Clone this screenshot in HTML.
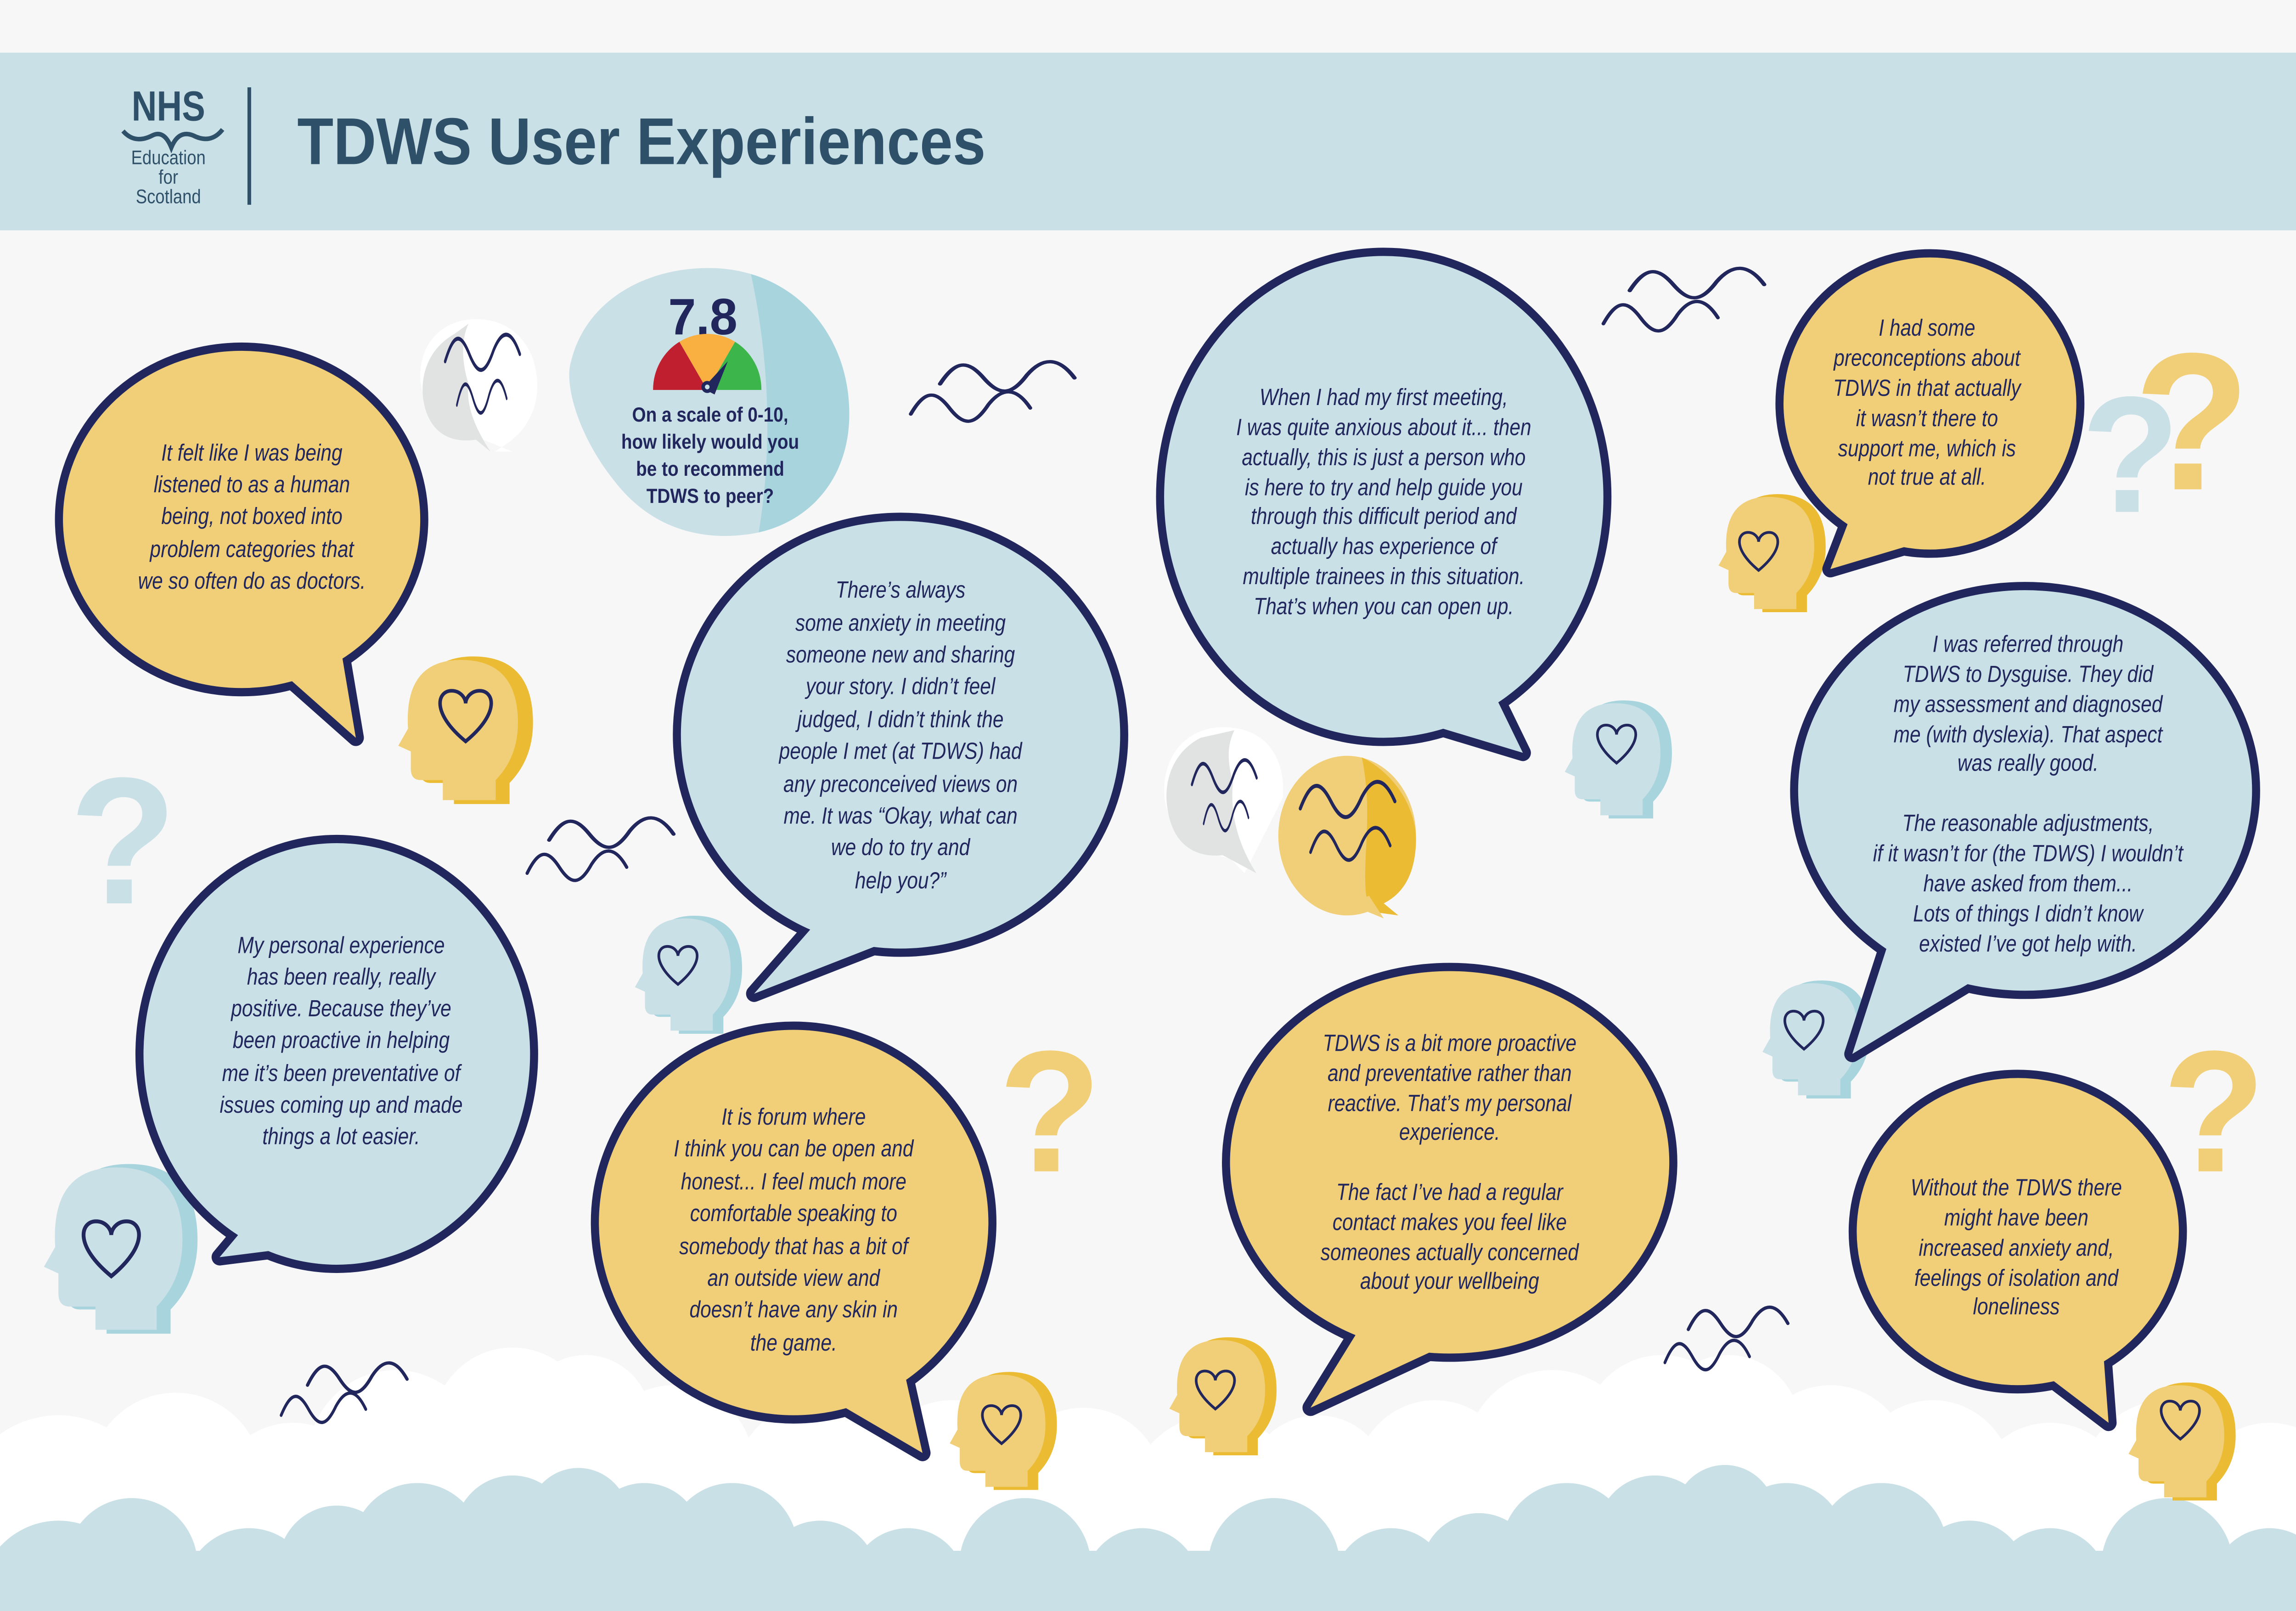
<!DOCTYPE html>
<html><head><meta charset="utf-8">
<style>
html,body{margin:0;padding:0;background:#f7f7f7;overflow:hidden;width:100%;height:100%;}
svg{display:block;position:absolute;left:0;top:0;width:100vw;height:100vh;}
.q{font-family:"Liberation Sans Narrow","Liberation Sans",sans-serif;font-style:italic;font-size:15.5px;fill:#21275c;text-anchor:middle;}
</style></head>
<body>
<svg viewBox="0 0 1568 1070" preserveAspectRatio="none" xmlns="http://www.w3.org/2000/svg">
<defs>
<g id="head">
<path d="M-8,52 L-8,38 L-24,38 Q-31,38 -31,30 L-31,18 L-40,14 L-33,2 Q-36,-46 5,-46 Q46,-46 46,-2 Q46,22 30,38 L30,52 Z"/>
</g>
<path id="wave" d="M0,10 C8,-6 14,-6 22,6 C30,18 36,18 44,4 C52,-8 60,-8 68,6" fill="none" stroke="#21275c" stroke-width="2.2" stroke-linecap="round"/>
<path id="hrt" d="M0,12 C-20,-4 -16,-16 -8,-16 C-3,-16 0,-12 0,-9 C0,-12 3,-16 8,-16 C16,-16 20,-4 0,12 Z"/>
</defs>
<rect x="0" y="0" width="1568" height="1070" fill="#f7f7f7"/>
<!-- header -->
<rect x="0" y="35" width="1568" height="118" fill="#c9e0e6"/>
<text x="115" y="80" font-family="Liberation Sans,sans-serif" font-weight="bold" font-size="28" fill="#2f5069" text-anchor="middle" transform="translate(115,0) scale(0.85,1) translate(-115,0)">NHS</text>
<path d="M84,87 Q92,96 104,90 Q112,86 117,98 Q122,86 132,90 Q144,96 152,86" fill="none" stroke="#2f5069" stroke-width="3"/>
<g font-family="Liberation Sans,sans-serif" font-size="13" fill="#2f5069" text-anchor="middle" transform="translate(115,0) scale(0.88,1) translate(-115,0)">
<text x="115" y="109">Education</text><text x="115" y="122">for</text><text x="115" y="135">Scotland</text></g>
<rect x="169" y="58" width="2.5" height="78" fill="#2f5069"/>
<text x="203" y="109" font-family="Liberation Sans,sans-serif" font-weight="bold" font-size="44" fill="#2f5069" transform="translate(203,0) scale(0.92,1) translate(-203,0)">TDWS User Experiences</text>

<!-- clouds white -->
<g fill="#ffffff">
<circle cx="40" cy="1010" r="70"/><circle cx="120" cy="985" r="60"/><circle cx="200" cy="1000" r="55"/>
<circle cx="270" cy="970" r="60"/><circle cx="350" cy="950" r="55"/><circle cx="400" cy="945" r="45"/>
<circle cx="460" cy="975" r="55"/><circle cx="560" cy="990" r="60"/><circle cx="650" cy="985" r="55"/>
<circle cx="740" cy="990" r="55"/><circle cx="830" cy="1000" r="60"/><circle cx="900" cy="990" r="50"/>
<circle cx="980" cy="985" r="55"/><circle cx="1060" cy="970" r="60"/><circle cx="1135" cy="955" r="55"/>
<circle cx="1180" cy="950" r="50"/><circle cx="1250" cy="975" r="55"/><circle cx="1320" cy="985" r="55"/>
<circle cx="1400" cy="1000" r="55"/><circle cx="1480" cy="990" r="60"/><circle cx="1550" cy="1000" r="55"/>
</g>
<!-- clouds blue -->
<g fill="#c9e0e6">
<rect x="0" y="1030" width="1568" height="40"/>
<circle cx="40" cy="1065" r="55"/><circle cx="90" cy="1040" r="45"/><circle cx="170" cy="1060" r="45"/>
<circle cx="230" cy="1040" r="40"/><circle cx="285" cy="1030" r="45"/><circle cx="350" cy="1020" r="40"/>
<circle cx="395" cy="1010" r="35"/><circle cx="440" cy="1025" r="40"/><circle cx="500" cy="1030" r="45"/>
<circle cx="560" cy="1050" r="40"/><circle cx="620" cy="1055" r="40"/><circle cx="700" cy="1040" r="45"/>
<circle cx="780" cy="1055" r="40"/><circle cx="870" cy="1040" r="45"/><circle cx="950" cy="1055" r="40"/>
<circle cx="1010" cy="1045" r="40"/><circle cx="1070" cy="1030" r="45"/><circle cx="1130" cy="1020" r="40"/>
<circle cx="1178" cy="1008" r="35"/><circle cx="1220" cy="1025" r="40"/><circle cx="1285" cy="1030" r="45"/>
<circle cx="1345" cy="1050" r="40"/><circle cx="1400" cy="1055" r="40"/><circle cx="1480" cy="1040" r="45"/>
<circle cx="1550" cy="1055" r="40"/>
</g>

<!-- waves -->
<use href="#wave" transform="translate(642,245) scale(1.35,1)"/>
<use href="#wave" transform="translate(622,265) scale(1.2,1)"/>
<use href="#wave" transform="translate(1113,183) scale(1.35,1)"/>
<use href="#wave" transform="translate(1095,205) scale(1.15,1)"/>
<use href="#wave" transform="translate(375,548) scale(1.25,1)"/>
<use href="#wave" transform="translate(360,570) scale(1.0,1)"/>
<use href="#wave" transform="translate(210,910) scale(1.0,1)"/>
<use href="#wave" transform="translate(192,930) scale(0.85,1)"/>
<use href="#wave" transform="translate(1153,873) scale(1.0,1)"/>
<use href="#wave" transform="translate(1137,895) scale(0.85,1)"/>

<!-- small chat bubbles -->
<path d="M325,212 C360,212 372,245 365,270 C358,290 345,295 338,300 L350,300 L330,292 C300,290 287,265 287,250 C287,225 305,212 325,212 Z" fill="#ffffff"/>
<path d="M310,222 C292,232 287,250 289,265 C292,285 305,295 325,292 L335,300 C325,285 318,270 320,255 C315,240 315,225 320,215 Z" fill="#e1e3e3"/>
<use href="#wave" transform="translate(304,228) scale(0.75,1.2)"/>
<use href="#wave" transform="translate(312,258) scale(0.5,1.1)"/>
<path d="M835,483 C870,483 878,510 876,530 L850,580 L840,570 C810,565 795,545 795,525 C795,500 812,483 835,483 Z" fill="#ffffff"/>
<path d="M820,490 C800,500 795,520 797,535 C800,560 815,570 835,568 L858,580 C845,560 840,540 842,520 C838,505 838,495 843,485 Z" fill="#e1e3e3"/>
<use href="#wave" transform="translate(814,510) scale(0.65,1.1)"/>
<use href="#wave" transform="translate(822,537) scale(0.45,1.0)"/>
<ellipse cx="920" cy="555" rx="47" ry="53" fill="#f1cf78"/>
<path d="M930,503 C955,515 968,540 967,560 C966,585 955,595 945,600 L955,608 L940,606 L933,595 C930,570 938,540 930,503 Z" fill="#ebbc33"/>
<path d="M920,600 L945,610 L935,595 Z" fill="#f1cf78"/>
<use href="#wave" transform="translate(888,525) scale(0.95,1.2)"/>
<use href="#wave" transform="translate(895,555) scale(0.8,1.1)"/>

<!-- gauge bubble -->
<clipPath id="gc"><path d="M484,178 C540,178 580,220 580,275 C580,320 550,350 510,355 C470,360 440,345 420,320 C395,290 385,255 390,240 C400,200 440,178 484,178 Z"/></clipPath>
<g clip-path="url(#gc)">
<rect x="380" y="170" width="210" height="200" fill="#c9e0e6"/>
<path d="M510,170 C525,230 530,300 515,370 L600,370 L600,170 Z" fill="#a8d4de"/>
</g>
<text x="480" y="222" font-family="Liberation Sans,sans-serif" font-weight="bold" font-size="34" fill="#21275c" text-anchor="middle">7.8</text>
<path d="M446,259 A37,37 0 0 1 464,227 L483,259 Z" fill="#bf1f2f"/>
<path d="M464,227 A37,37 0 0 1 502,227 L483,259 Z" fill="#f9b041"/>
<path d="M502,227 A37,37 0 0 1 520,259 L483,259 Z" fill="#3cb64a"/>
<path d="M480,258 L497,240 L488,262 Z" fill="#21275c"/>
<circle cx="483" cy="257" r="4" fill="#21275c"/><circle cx="483" cy="257" r="1.6" fill="#c9e0e6"/>
<g font-family="Liberation Sans,sans-serif" font-weight="bold" font-size="13.5" fill="#21275c" text-anchor="middle" transform="translate(485,0) scale(0.9,1) translate(-485,0)">
<text x="485" y="280">On a scale of 0-10,</text><text x="485" y="298">how likely would you</text>
<text x="485" y="316">be to recommend</text><text x="485" y="334">TDWS to peer?</text></g>

<!-- question marks -->
<g font-family="Liberation Sans,sans-serif" font-weight="bold" text-anchor="middle">
<text x="84" y="600" font-size="120" fill="#c9e0e6">?</text>
<text x="1455" y="340" font-size="110" fill="#c9e0e6">?</text>
<text x="1497" y="325" font-size="130" fill="#f1cf78">?</text>
<text x="717" y="778" font-size="115" fill="#f1cf78">?</text>
<text x="1512" y="778" font-size="115" fill="#f1cf78">?</text>
</g>

<!-- heads -->
<g>
<use href="#head" transform="translate(318,482) scale(1.0)" fill="#ebbc33"/><use href="#head" transform="translate(310,482) scale(0.95)" fill="#f1cf78"/>
<use href="#head" transform="translate(1105,502) scale(0.8)" fill="#a8d4de"/><use href="#head" transform="translate(1099,502) scale(0.76)" fill="#c9e0e6"/>
<use href="#head" transform="translate(1210,365) scale(0.8)" fill="#ebbc33"/><use href="#head" transform="translate(1204,365) scale(0.76)" fill="#f1cf78"/>
<use href="#head" transform="translate(470,645) scale(0.8)" fill="#a8d4de"/><use href="#head" transform="translate(464,645) scale(0.76)" fill="#c9e0e6"/>
<use href="#head" transform="translate(82,826) scale(1.15)" fill="#a8d4de"/><use href="#head" transform="translate(74,826) scale(1.1)" fill="#c9e0e6"/>
<use href="#head" transform="translate(685,948) scale(0.8)" fill="#ebbc33"/><use href="#head" transform="translate(679,948) scale(0.76)" fill="#f1cf78"/>
<use href="#head" transform="translate(835,925) scale(0.8)" fill="#ebbc33"/><use href="#head" transform="translate(829,925) scale(0.76)" fill="#f1cf78"/>
<use href="#head" transform="translate(1240,688) scale(0.8)" fill="#a8d4de"/><use href="#head" transform="translate(1234,688) scale(0.76)" fill="#c9e0e6"/>
<use href="#head" transform="translate(1490,955) scale(0.8)" fill="#ebbc33"/><use href="#head" transform="translate(1484,955) scale(0.76)" fill="#f1cf78"/>
</g>
<g fill="none" stroke="#21275c" stroke-width="2">
<use href="#hrt" transform="translate(318,478) scale(1.2)"/>
<use href="#hrt" transform="translate(1104,496) scale(0.9)"/>
<use href="#hrt" transform="translate(1201,368) scale(0.9)"/>
<use href="#hrt" transform="translate(463,643) scale(0.9)"/>
<use href="#hrt" transform="translate(76,832) scale(1.3)"/>
<use href="#hrt" transform="translate(684,948) scale(0.9)"/>
<use href="#hrt" transform="translate(830,925) scale(0.9)"/>
<use href="#hrt" transform="translate(1232,686) scale(0.9)"/>
<use href="#hrt" transform="translate(1489,945) scale(0.9)"/>
</g>

<!-- big bubbles: outline layer -->
<g fill="#21275c" stroke="#21275c" stroke-width="11" stroke-linejoin="round">
<ellipse cx="165" cy="345" rx="122" ry="112"/><polygon points="185,440 230,415 243,490"/>
<ellipse cx="615" cy="488" rx="150" ry="142"/><polygon points="560,610 615,622 515,660"/>
<ellipse cx="945" cy="330" rx="150" ry="160"/><polygon points="955,475 1010,440 1040,500"/>
<ellipse cx="1318" cy="268" rx="100" ry="97"/><polygon points="1265,340 1312,360 1250,378"/>
<ellipse cx="1383" cy="525" rx="155" ry="133"/><polygon points="1290,625 1350,650 1265,700"/>
<ellipse cx="230" cy="700" rx="132" ry="140"/><polygon points="180,800 232,825 150,835"/>
<ellipse cx="542" cy="812" rx="133" ry="128"/><polygon points="565,928 615,900 630,965"/>
<ellipse cx="990" cy="772" rx="150" ry="127"/><polygon points="930,880 988,893 895,935"/>
<ellipse cx="1378" cy="818" rx="110" ry="102"/><polygon points="1390,908 1435,880 1440,945"/>
</g>
<g fill="#f1cf78">
<ellipse cx="165" cy="345" rx="122" ry="112"/><polygon points="185,440 230,415 243,490"/>
<ellipse cx="1318" cy="268" rx="100" ry="97"/><polygon points="1265,340 1312,360 1250,378"/>
<ellipse cx="542" cy="812" rx="133" ry="128"/><polygon points="565,928 615,900 630,965"/>
<ellipse cx="990" cy="772" rx="150" ry="127"/><polygon points="930,880 988,893 895,935"/>
<ellipse cx="1378" cy="818" rx="110" ry="102"/><polygon points="1390,908 1435,880 1440,945"/>
</g>
<g fill="#c9e0e7">
<ellipse cx="615" cy="488" rx="150" ry="142"/><polygon points="560,610 615,622 515,660"/>
<ellipse cx="945" cy="330" rx="150" ry="160"/><polygon points="955,475 1010,440 1040,500"/>
<ellipse cx="1383" cy="525" rx="155" ry="133"/><polygon points="1290,625 1350,650 1265,700"/>
<ellipse cx="230" cy="700" rx="132" ry="140"/><polygon points="180,800 232,825 150,835"/>
</g>

<!-- quotes -->
<g class="q" transform="translate(172,0) scale(0.86,1) translate(-172,0)">
<text x="172" y="306">It felt like I was being</text>
<text x="172" y="327">listened to as a human</text>
<text x="172" y="348">being, not boxed into</text>
<text x="172" y="370">problem categories that</text>
<text x="172" y="391">we so often do as doctors.</text>
</g>
<g class="q" transform="translate(615,0) scale(0.86,1) translate(-615,0)">
<text x="615" y="397">There’s always</text>
<text x="615" y="419">some anxiety in meeting</text>
<text x="615" y="440">someone new and sharing</text>
<text x="615" y="461">your story. I didn’t feel</text>
<text x="615" y="483">judged, I didn’t think the</text>
<text x="615" y="504">people I met (at TDWS) had</text>
<text x="615" y="526">any preconceived views on</text>
<text x="615" y="547">me. It was “Okay, what can</text>
<text x="615" y="568">we do to try and</text>
<text x="615" y="590">help you?”</text>
</g>
<g class="q" font-size="14.5" transform="translate(945,0) scale(0.86,1) translate(-945,0)">
<text x="945" y="269">When I had my first meeting,</text>
<text x="945" y="289">I was quite anxious about it... then</text>
<text x="945" y="309">actually, this is just a person who</text>
<text x="945" y="329">is here to try and help guide you</text>
<text x="945" y="348">through this difficult period and</text>
<text x="945" y="368">actually has experience of</text>
<text x="945" y="388">multiple trainees in this situation.</text>
<text x="945" y="408">That’s when you can open up.</text>
</g>
<g class="q" font-size="14.5" transform="translate(1316,0) scale(0.86,1) translate(-1316,0)">
<text x="1316" y="223">I had some</text>
<text x="1316" y="243">preconceptions about</text>
<text x="1316" y="263">TDWS in that actually</text>
<text x="1316" y="283">it wasn’t there to</text>
<text x="1316" y="303">support me, which is</text>
<text x="1316" y="322">not true at all.</text>
</g>
<g class="q" font-size="14.5" transform="translate(1385,0) scale(0.86,1) translate(-1385,0)">
<text x="1385" y="433">I was referred through</text>
<text x="1385" y="453">TDWS to Dysguise. They did</text>
<text x="1385" y="473">my assessment and diagnosed</text>
<text x="1385" y="493">me (with dyslexia). That aspect</text>
<text x="1385" y="512">was really good.</text>
<text x="1385" y="552">The reasonable adjustments,</text>
<text x="1385" y="572">if it wasn’t for (the TDWS) I wouldn’t</text>
<text x="1385" y="592">have asked from them...</text>
<text x="1385" y="612">Lots of things I didn’t know</text>
<text x="1385" y="632">existed I’ve got help with.</text>
</g>
<g class="q" transform="translate(233,0) scale(0.86,1) translate(-233,0)">
<text x="233" y="633">My personal experience</text>
<text x="233" y="654">has been really, really</text>
<text x="233" y="675">positive. Because they’ve</text>
<text x="233" y="696">been proactive in helping</text>
<text x="233" y="718">me it’s been preventative of</text>
<text x="233" y="739">issues coming up and made</text>
<text x="233" y="760">things a lot easier.</text>
</g>
<g class="q" transform="translate(542,0) scale(0.86,1) translate(-542,0)">
<text x="542" y="747">It is forum where</text>
<text x="542" y="768">I think you can be open and</text>
<text x="542" y="790">honest... I feel much more</text>
<text x="542" y="811">comfortable speaking to</text>
<text x="542" y="833">somebody that has a bit of</text>
<text x="542" y="854">an outside view and</text>
<text x="542" y="875">doesn’t have any skin in</text>
<text x="542" y="897">the game.</text>
</g>
<g class="q" font-size="14.5" transform="translate(990,0) scale(0.86,1) translate(-990,0)">
<text x="990" y="698">TDWS is a bit more proactive</text>
<text x="990" y="718">and preventative rather than</text>
<text x="990" y="738">reactive. That’s my personal</text>
<text x="990" y="757">experience.</text>
<text x="990" y="797">The fact I’ve had a regular</text>
<text x="990" y="817">contact makes you feel like</text>
<text x="990" y="837">someones actually concerned</text>
<text x="990" y="856">about your wellbeing</text>
</g>
<g class="q" font-size="14.5" transform="translate(1377,0) scale(0.86,1) translate(-1377,0)">
<text x="1377" y="794">Without the TDWS there</text>
<text x="1377" y="814">might have been</text>
<text x="1377" y="834">increased anxiety and,</text>
<text x="1377" y="854">feelings of isolation and</text>
<text x="1377" y="873">loneliness</text>
</g>
</svg>
</body></html>
